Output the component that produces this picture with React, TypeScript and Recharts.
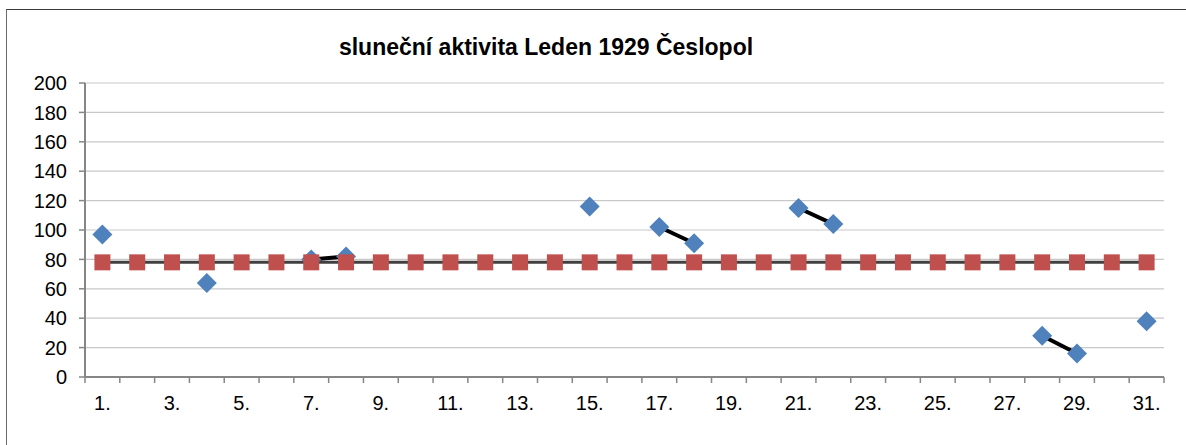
import React from "react";
import {
  ComposedChart,
  Line,
  XAxis,
  YAxis,
  CartesianGrid,
} from "recharts";

const title = "sluneční aktivita Leden 1929 Česlopol";

const days = [
  "1.", "2.", "3.", "4.", "5.", "6.", "7.", "8.", "9.", "10.",
  "11.", "12.", "13.", "14.", "15.", "16.", "17.", "18.", "19.", "20.",
  "21.", "22.", "23.", "24.", "25.", "26.", "27.", "28.", "29.", "30.", "31.",
];

const activity: (number | null)[] = [
  97, null, null, 64, null, null, 80, 82, null, null,
  null, null, null, null, 116, null, 102, 91, null, null,
  115, 104, null, null, null, null, null, 28, 16, null, 38,
];

const average: number[] = [
  78, 78, 78, 78, 78, 78, 78, 78, 78, 78,
  78, 78, 78, 78, 78, 78, 78, 78, 78, 78,
  78, 78, 78, 78, 78, 78, 78, 78, 78, 78, 78,
];

const yTicks = [0, 20, 40, 60, 80, 100, 120, 140, 160, 180, 200];

const data = days.map((d, i) => ({
  x: i + 1,
  label: d,
  activity: activity[i],
  average: average[i],
}));

// label ticks at odd days (centres), tick marks at category boundaries
const xTicks: number[] = [];
days.forEach((_, i) => {
  xTicks.push(i + 0.5);
  if (i % 2 === 0) xTicks.push(i + 1);
});
xTicks.push(days.length + 0.5);

const FONT = "'Liberation Sans', Arial, sans-serif";

const XTick = (props: any) => {
  const { x, y, payload } = props;
  const v = payload.value as number;
  if (Math.abs(v - Math.round(v)) > 0.01) {
    return <line x1={x} x2={x} y1={y} y2={y + 6} stroke="#868686" strokeWidth={1.5} />;
  }
  return (
    <text x={x} y={y + 33} textAnchor="middle" fontSize={20} fontFamily={FONT} fill="#000">
      {days[v - 1]}
    </text>
  );
};

const Diamond = (props: any) => {
  const { cx, cy, index } = props;
  if (cx == null || cy == null || props.value == null) return <g key={"d" + index} />;
  const r = 10;
  return (
    <polygon
      key={"d" + index}
      points={`${cx},${cy - r} ${cx + r},${cy} ${cx},${cy + r} ${cx - r},${cy}`}
      fill="#4F81BD"
    />
  );
};

const Square = (props: any) => {
  const { cx, cy, index } = props;
  if (cx == null || cy == null) return <g key={"s" + index} />;
  const h = 8;
  return <rect key={"s" + index} x={cx - h} y={cy - h} width={2 * h} height={2 * h} fill="#C0504D" />;
};

export default function App() {
  return (
    <div
      style={{
        position: "absolute",
        left: 6,
        top: 9,
        width: 1200,
        height: 450,
        borderLeft: "1.5px solid #6a6a6a",
        borderTop: "1.5px solid #3a3a3a",
        background: "#fff",
        boxSizing: "border-box",
      }}
    >
      <div
        style={{
          position: "absolute",
          left: 0,
          width: 1078,
          top: 24,
          textAlign: "center",
          fontFamily: FONT,
          fontWeight: "bold",
          fontSize: 23,
          color: "#000",
          lineHeight: "26px",
        }}
      >
        {title}
      </div>
      <div style={{ position: "absolute", left: -1.5, top: -1.5 }}>
        <ComposedChart
          width={1172}
          height={432}
          data={data}
          margin={{ top: 74, right: 14, left: 0, bottom: 14 }}
        >
          <CartesianGrid vertical={false} stroke="#c8c8c8" strokeWidth={1.2} />
          <XAxis
            dataKey="x"
            type="number"
            domain={[0.5, 31.5]}
            ticks={xTicks}
            interval={0}
            tick={<XTick />}
            tickLine={false}
            tickSize={0}
            tickMargin={0}
            height={50}
            axisLine={{ stroke: "#868686", strokeWidth: 2 }}
            allowDataOverflow
          />
          <XAxis
            xAxisId="top"
            orientation="top"
            dataKey="x"
            type="number"
            domain={[0.5, 31.5]}
            height={0}
            tick={false}
            tickLine={false}
            axisLine={{ stroke: "#868686", strokeWidth: 2 }}
          />
          <YAxis
            domain={[0, 200]}
            ticks={yTicks}
            interval={0}
            width={79}
            tickSize={6}
            tickMargin={12}
            tick={{ fontSize: 20, fontFamily: FONT, fill: "#000" }}
            tickLine={{ stroke: "#868686", strokeWidth: 1.5 }}
            axisLine={{ stroke: "#868686", strokeWidth: 2 }}
          />
          <YAxis
            yAxisId="right"
            orientation="right"
            domain={[0, 200]}
            width={0}
            tick={false}
            tickLine={false}
            axisLine={{ stroke: "#868686", strokeWidth: 2 }}
          />
          <Line
            dataKey="activity"
            stroke="#000"
            strokeWidth={4}
            dot={<Diamond />}
            activeDot={false}
            isAnimationActive={false}
            connectNulls={false}
          />
          <Line
            dataKey="average"
            stroke="#404040"
            strokeWidth={3}
            dot={<Square />}
            activeDot={false}
            isAnimationActive={false}
          />
        </ComposedChart>
      </div>
    </div>
  );
}
